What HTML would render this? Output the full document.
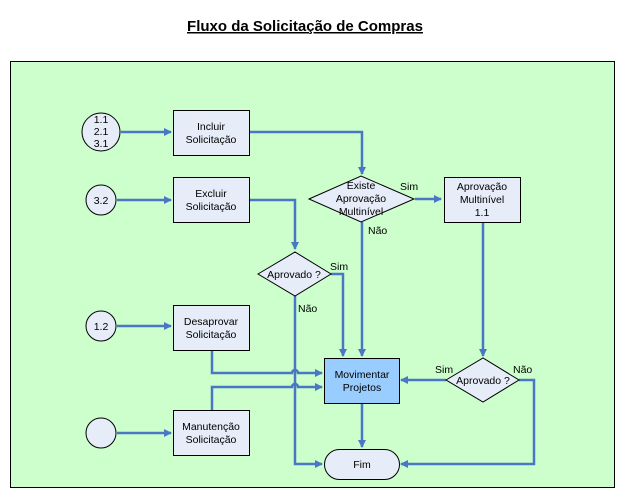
<!DOCTYPE html>
<html><head><meta charset="utf-8"><style>
body{margin:0;background:#fff;width:617px;height:490px;overflow:hidden}
svg text{font-family:"Liberation Sans",sans-serif;font-size:10.5px;fill:#000}
</style></head><body>
<svg width="617" height="490" viewBox="0 0 617 490" xmlns="http://www.w3.org/2000/svg">
<defs><marker id="a" markerWidth="8" markerHeight="8" refX="7" refY="4" orient="auto" markerUnits="userSpaceOnUse"><path d="M0,0 L8,4 L0,8 Z" fill="#4a76c6"/></marker></defs>
<text x="305" y="31" text-anchor="middle" style="font-size:15px;font-weight:bold;text-decoration:underline">Fluxo da Solicitação de Compras</text>
<rect x="10.5" y="61.5" width="604" height="426" fill="#ccffcc" stroke="#000" stroke-width="1"/>
<g stroke="#4a76c6" stroke-width="2.5" fill="none">
<path d="M121,132 H171" marker-end="url(#a)"/>
<path d="M117,200 H171" marker-end="url(#a)"/>
<path d="M117,326 H171" marker-end="url(#a)"/>
<path d="M117,433 H171" marker-end="url(#a)"/>
<path d="M250,132 H362 V174" marker-end="url(#a)"/>
<path d="M250,200 H295 V249" marker-end="url(#a)"/>
<path d="M415,199 H441" marker-end="url(#a)"/>
<path d="M362,222 V356" marker-end="url(#a)"/>
<path d="M331,274 H343 V356" marker-end="url(#a)"/>
<path d="M295,296 V464 H322" marker-end="url(#a)"/>
<path d="M212,350 V373 H292 a3,3 0 0 1 6,0 H322" marker-end="url(#a)"/>
<path d="M212,410 V387 H292 a3,3 0 0 1 6,0 H322" marker-end="url(#a)"/>
<path d="M483,222 V356" marker-end="url(#a)"/>
<path d="M446,380 H401" marker-end="url(#a)"/>
<path d="M519,380 H534 V464 H401" marker-end="url(#a)"/>
<path d="M362,403 V447" marker-end="url(#a)"/>
</g>
<g stroke="#000" stroke-width="1" fill="#e6ecf8">
<circle cx="101" cy="132" r="19"/>
<circle cx="101" cy="200" r="15"/>
<circle cx="101" cy="326" r="15"/>
<circle cx="101" cy="433" r="15"/>
<rect x="173.5" y="110.5" width="76" height="45"/>
<rect x="173.5" y="177.5" width="76" height="45"/>
<rect x="173.5" y="305.5" width="76" height="45"/>
<rect x="173.5" y="410.5" width="76" height="45"/>
<rect x="444.5" y="177.5" width="76" height="45"/>
<rect x="324.5" y="358.5" width="75" height="45" fill="#99ccff"/>
<rect x="324.5" y="449.5" width="75" height="30" rx="15"/>
<polygon points="309,199 361,176 414,199 361,222"/>
<polygon points="258,274 295,252 331,274 295,296"/>
<polygon points="446,380 483,358 519,380 483,402"/>
</g>
<g text-anchor="middle">
<text x="101" y="123">1.1</text><text x="101" y="135">2.1</text><text x="101" y="147">3.1</text>
<text x="101" y="204">3.2</text><text x="101" y="330">1.2</text>
<text x="211" y="130">Incluir</text><text x="211" y="143">Solicitação</text>
<text x="211" y="197">Excluir</text><text x="211" y="210">Solicitação</text>
<text x="211" y="325">Desaprovar</text><text x="211" y="338">Solicitação</text>
<text x="211" y="430">Manutenção</text><text x="211" y="443">Solicitação</text>
<text x="482" y="190">Aprovação</text><text x="482" y="203">Multinível</text><text x="482" y="216">1.1</text>
<text x="362" y="378">Movimentar</text><text x="362" y="391">Projetos</text>
<text x="362" y="468">Fim</text>
<text x="361" y="189">Existe</text><text x="361" y="202">Aprovação</text><text x="361" y="215">Multinível</text>
<text x="294" y="278">Aprovado ?</text>
<text x="483" y="384">Aprovado ?</text>
</g>
<text x="400" y="190">Sim</text><text x="368" y="234">Não</text>
<text x="330" y="270">Sim</text><text x="298" y="312">Não</text>
<text x="435" y="373">Sim</text><text x="513" y="373">Não</text>
</svg>
</body></html>
